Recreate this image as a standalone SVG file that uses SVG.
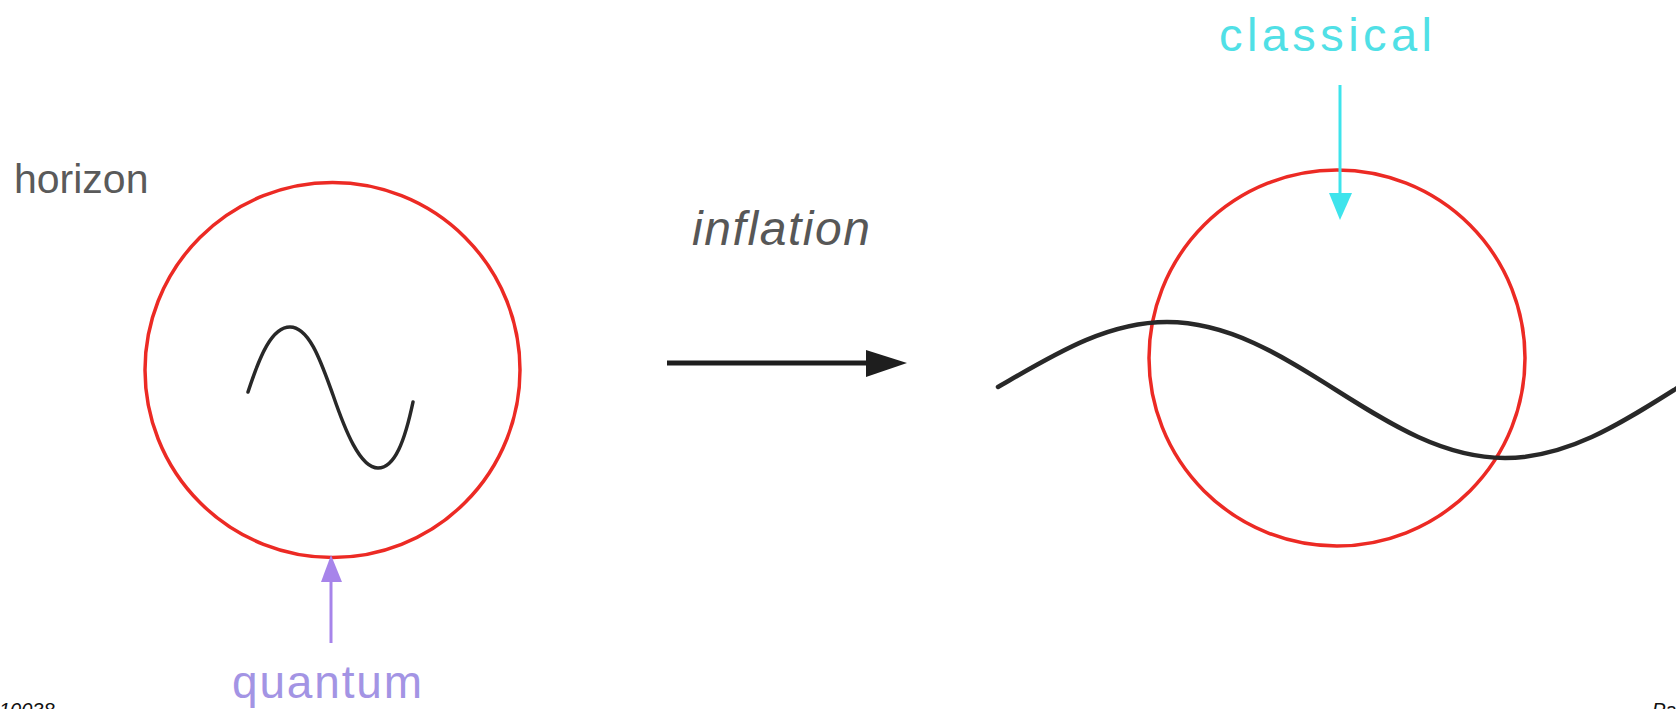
<svg xmlns="http://www.w3.org/2000/svg" width="1676" height="709" viewBox="0 0 1676 709">
<style>
.horizon{fill:none;stroke:#ec2a24;stroke-width:3.5}
.wave{fill:none;stroke:#282828;stroke-linecap:round}
.lbl{font-family:"Liberation Sans",Arial,sans-serif}
</style>
<rect width="1676" height="709" fill="#ffffff"/>
<g id="label-horizon"><text class="lbl" x="14" y="193" font-size="41" fill="#5a5a5a">horizon</text></g>
<g id="left-horizon">
<circle class="horizon" cx="332.5" cy="370" r="187.5"/>
<path class="wave" stroke-width="3.5" d="M248,392 C260,355 272,327 290,327 C310,327 322,365 333,395 C345,430 360,468 378,468 C395,468 405,440 413,402"/>
</g>
<g id="label-inflation"><text class="lbl" x="692" y="245" font-size="48" font-style="italic" fill="#575757" textLength="178" lengthAdjust="spacing">inflation</text></g>
<g id="right-horizon">
<circle class="horizon" cx="1337" cy="358" r="188"/>
</g>
<g id="classical-wave">
<path class="wave" stroke-width="4.5" d="M998,387 C1053.1,355.2 1105.8,322 1167,322 C1228.2,322 1280.9,355.2 1336,390 C1391.1,424.8 1443.8,458 1505,458 C1566.2,458 1618.9,424.8 1674,390 L1680,386"/>
</g>
<g id="label-classical"><text class="lbl" x="1219" y="51" font-size="47" fill="#50e0e6" textLength="213" lengthAdjust="spacing">classical</text></g>
<g id="label-quantum"><text class="lbl" x="232" y="698" font-size="46" fill="#a394e4" textLength="190" lengthAdjust="spacing">quantum</text></g>
<g id="footer">
<text class="lbl" x="-1" y="717" font-size="20" font-style="italic" fill="#111">10038</text>
<text class="lbl" x="1652" y="717" font-size="20" font-style="italic" fill="#111">Pa</text>
</g>
<g id="connectors">
<line x1="667" y1="363" x2="870" y2="363" stroke="#1e1e1e" stroke-width="5"/>
<polygon points="866,350 907,363 866,377" fill="#1e1e1e"/>
<line x1="331" y1="643" x2="331" y2="578" stroke="#a784ea" stroke-width="3"/>
<polygon points="321,582 331,555 342,582" fill="#a784ea"/>
<line x1="1340" y1="85" x2="1340" y2="197" stroke="#3ee4ec" stroke-width="3"/>
<polygon points="1329,193 1340,220 1352,193" fill="#3ee4ec"/>
</g>
</svg>
